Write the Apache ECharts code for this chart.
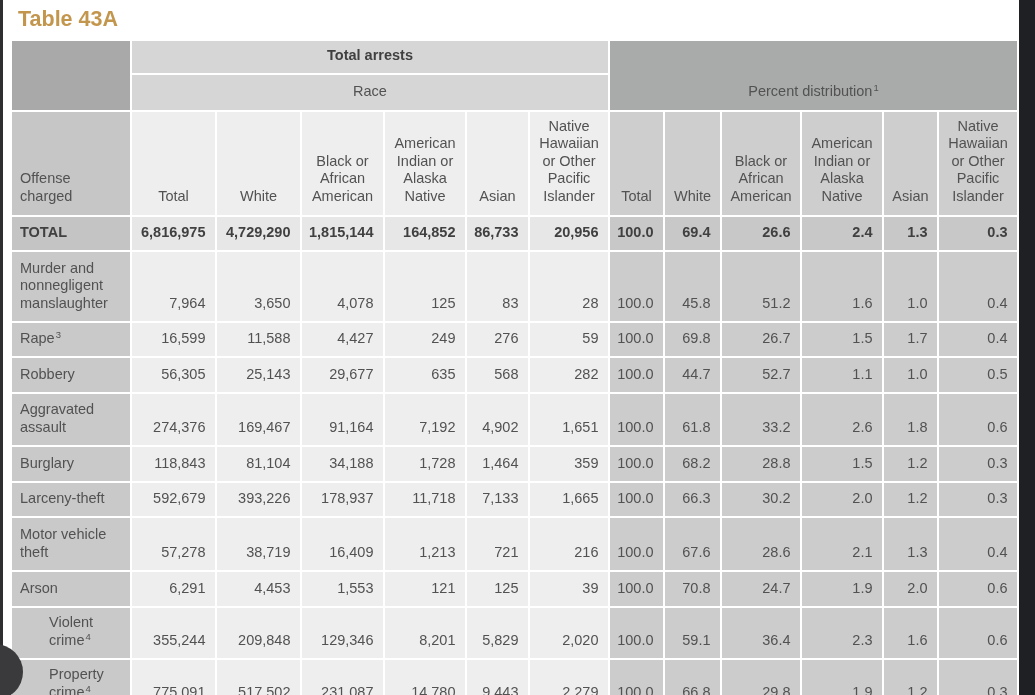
<!DOCTYPE html>
<html>
<head>
<meta charset="utf-8">
<script src="https://cdn.jsdelivr.net/npm/echarts@6/dist/echarts.min.js"></script>
<style>
html,body{margin:0;padding:0;background:#fff;width:1035px;height:695px;overflow:hidden;position:relative;}
#chart{position:absolute;left:0;top:0;width:1035px;height:730px;}
.edgeR{position:absolute;left:1019px;top:0;width:16px;height:695px;background:#1f2023;}
.edgeL{position:absolute;left:0;top:0;width:3px;height:695px;background:#2e2e30;}
.dot{position:absolute;left:-33px;top:644px;width:56px;height:56px;border-radius:50%;background:#3a3a3c;}
</style>
</head>
<body>
<div id="chart"></div>
<div class="edgeR"></div>
<div class="edgeL"></div>
<div class="dot"></div>
<script>
// ---- data ----
const offenses = ['TOTAL','Murder and\nnonnegligent\nmanslaughter','Rape{sup|3}','Robbery','Aggravated\nassault','Burglary','Larceny-theft','Motor vehicle\ntheft','Arson','Violent\ncrime{sup|4}','Property\ncrime{sup|4}'];
const indented = [false,false,false,false,false,false,false,false,false,true,true];
const raceHeaders = ['Total','White','Black or\nAfrican\nAmerican','American\nIndian or\nAlaska\nNative','Asian','Native\nHawaiian\nor Other\nPacific\nIslander'];
const arrestsTotal = [6816975,7964,16599,56305,274376,118843,592679,57278,6291,355244,775091];
const arrestsWhite = [4729290,3650,11588,25143,169467,81104,393226,38719,4453,209848,517502];
const arrestsBlack = [1815144,4078,4427,29677,91164,34188,178937,16409,1553,129346,231087];
const arrestsAIAN  = [164852,125,249,635,7192,1728,11718,1213,121,8201,14780];
const arrestsAsian = [86733,83,276,568,4902,1464,7133,721,125,5829,9443];
const arrestsNHOPI = [20956,28,59,282,1651,359,1665,216,39,2020,2279];
const pctTotal = [100.0,100.0,100.0,100.0,100.0,100.0,100.0,100.0,100.0,100.0,100.0];
const pctWhite = [69.4,45.8,69.8,44.7,61.8,68.2,66.3,67.6,70.8,59.1,66.8];
const pctBlack = [26.6,51.2,26.7,52.7,33.2,28.8,30.2,28.6,24.7,36.4,29.8];
const pctAIAN  = [2.4,1.6,1.5,1.1,2.6,1.5,2.0,2.1,1.9,2.3,1.9];
const pctAsian = [1.3,1.0,1.7,1.0,1.8,1.2,1.2,1.3,2.0,1.6,1.2];
const pctNHOPI = [0.3,0.4,0.4,0.5,0.6,0.3,0.3,0.4,0.6,0.6,0.3];
const titleText = 'Table 43A';
const groupArrests = 'Total arrests';
const groupRace = 'Race';
const groupPct = 'Percent distribution{sup|1}';
const offenseHeader = 'Offense\ncharged';

// ---- layout (not data) ----
const colWidths = [120,85,85,83,82,63,80,55,57,80,82,55,80];
const rowHeights = [34,37,105,35,71,35,36,53,36,35,54,36,52,52];
const colEdges = [0]; colWidths.forEach(w => colEdges.push(colEdges[colEdges.length-1] + w));
const rowEdges = [0]; rowHeights.forEach(h => rowEdges.push(rowEdges[rowEdges.length-1] + h));
const GAP = 2;

function fmtInt(n){ return String(n).replace(/\B(?=(\d{3})+(?!\d))/g, ','); }

const arrestCols = [arrestsTotal, arrestsWhite, arrestsBlack, arrestsAIAN, arrestsAsian, arrestsNHOPI];
const pctCols = [pctTotal, pctWhite, pctBlack, pctAIAN, pctAsian, pctNHOPI];

const cells = [];
function add(c, r, cs, rs, text, bg, align, bold, extra){
  cells.push(Object.assign({c, r, cs, rs, text, bg, align, bold}, extra || {}));
}
add(0,0,1,2,'','#a9a9a9','left',false);
add(1,0,6,1,groupArrests,'#d6d6d6','center',true,{pad:8.5});
add(1,1,6,1,groupRace,'#d6d6d6','center',false,{pad:9.5});
add(7,0,6,2,groupPct,'#a9abab','center',false,{pad:9.5});
add(0,2,1,1,offenseHeader,'#c6c6c6','left',false,{pad:9.5});
raceHeaders.forEach((h,i) => add(1+i,2,1,1,h,'#eeeeee','center',false,{pad:9.5}));
raceHeaders.forEach((h,i) => add(7+i,2,1,1,h,'#cecece','center',false,{pad:9.5}));
offenses.forEach((o,i) => {
  const r = 3 + i;
  const isTot = i === 0;
  add(0,r,1,1,o,isTot ? '#c4c4c4' : '#c9c9c9','left',isTot,{indent: indented[i] ? 29 : 0});
  arrestCols.forEach((col,j) => add(1+j,r,1,1,fmtInt(col[i]), isTot ? '#e7e7e7' : '#eeeeee','right',isTot));
  pctCols.forEach((col,j) => add(7+j,r,1,1,col[i].toFixed(1), isTot ? '#c8c8c8' : '#cccccc','right',isTot));
});

const data = cells.map(cl => [colEdges[cl.c], rowEdges[cl.r], colEdges[cl.c+cl.cs], rowEdges[cl.r+cl.rs]]);

const FONT = "'Liberation Sans', Arial, sans-serif";

function renderItem(params, api){
  const cl = cells[params.dataIndex];
  const p0 = api.coord([api.value(0), api.value(1)]);
  const p1 = api.coord([api.value(2), api.value(3)]);
  const x0 = p0[0], y0 = p0[1], x1 = p1[0] - GAP, y1 = p1[1] - GAP;
  let tx;
  if (cl.align === 'left') tx = x0 + 8 + (cl.indent || 0);
  else if (cl.align === 'center') tx = (x0 + x1) / 2;
  else tx = x1 - 9.5;
  const pad = cl.pad != null ? cl.pad : 8.5;
  const color = cl.bold ? '#404040' : '#525252';
  return {
    type: 'group',
    children: [
      { type: 'rect', shape: { x: x0, y: y0, width: x1 - x0, height: y1 - y0 }, style: { fill: cl.bg } },
      { type: 'text', style: {
          text: cl.text, x: tx, y: y1 - pad,
          align: cl.align, verticalAlign: 'bottom',
          fontSize: 14.5, fontFamily: FONT, fontWeight: cl.bold ? 'bold' : 'normal',
          lineHeight: 17.5, fill: color,
          rich: { sup: { fontSize: 9.5, fontFamily: FONT, fill: color, verticalAlign: 'top', lineHeight: 11, padding: [0,0,0,1] } }
        } }
    ]
  };
}

const chart = echarts.init(document.getElementById('chart'), null, { renderer: 'canvas' });
chart.setOption({
  animation: false,
  backgroundColor: 'transparent',
  title: { text: titleText, left: 18, top: 9.5, padding: 0, textStyle: { color: '#c3964d', fontSize: 21.5, fontWeight: 'bold', fontFamily: FONT } },
  grid: { left: 12, top: 41, width: colEdges[colEdges.length-1], height: rowEdges[rowEdges.length-1] },
  xAxis: { type: 'value', min: 0, max: colEdges[colEdges.length-1], show: false },
  yAxis: { type: 'value', min: 0, max: rowEdges[rowEdges.length-1], inverse: true, show: false },
  series: [{ type: 'custom', renderItem: renderItem, data: data, clip: false, silent: true }]
});
</script>
</body>
</html>
